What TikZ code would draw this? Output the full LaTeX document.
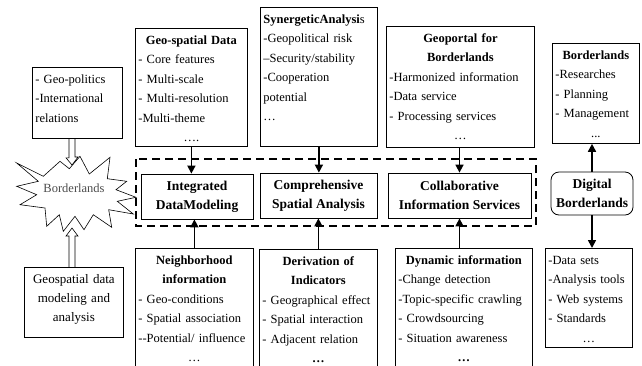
\documentclass[tikz,border=0pt]{standalone}
\usepackage{fontspec}
\setmainfont{Liberation Serif}
\usetikzlibrary{arrows.meta}
\newcommand{\ctr}[1]{\makebox[\hsize]{#1}}

\begin{document}
\begin{tikzpicture}[x=1pt,y=-1pt]
    \tikzstyle{every node}=[inner sep=3pt];
    \tikzstyle{infobox}=[draw, line width=0.8pt, anchor=north west, align=left, text height=13pt, font=\fontsize{12.5}{19.4}\selectfont];
    \tikzstyle{midbox}=[draw, line width=0.8pt, align=center, minimum height=45pt, font=\bfseries\fontsize{13.5}{19}\selectfont];
    \tikzstyle{flow}=[line width=1.6pt, -{Triangle[length=8pt,width=8pt]}];
    \tikzstyle{hollow}=[line width=0.6pt, line join=miter];
    \tikzstyle{group}=[line width=1.5pt, dash pattern=on 8pt off 5pt];
    %\node[infobox, text width=w, text depth=d] (name) at (x,y) {...};

    \useasboundingbox (0,0) rectangle (642,365);
    \clip (0,0) rectangle (642,365);

    \node[infobox, text width=84pt, text depth=52pt] (geopol) at (32,67) {- Geo-politics\\-International\\relations};
    \node[infobox, text width=106pt, text depth=99pt] (geodata) at (135,28) {\ctr{\textbf{Geo-spatial Data}}\\- Core features\\- Multi-scale\\- Multi-resolution\\-Multi-theme\\\ctr{….}};
    \node[infobox, text width=111pt, text depth=120pt] (synergy) at (260,7) {\textbf{SynergeticAnalysi}s\\-Geopolitical risk\\–Security/stability\\-Cooperation\\potential\\…};
    \node[infobox, text width=142pt, text depth=102pt] (portal) at (386,26) {\ctr{\textbf{Geoportal for}}\\\ctr{\textbf{Borderlands}}\\-Harmonized information\\-Data service\\- Processing services\\\ctr{…}};
    \node[infobox, text width=81pt, text depth=81pt] (blusers) at (552,43) {\ctr{\textbf{Borderlands}}\\-Researches\\- Planning\\- Management\\\ctr{...}};

    \node[midbox, minimum width=112pt] (integ) at (197,196.5) {Integrated\\DataModeling};
    \node[midbox, minimum width=117pt] (compr) at (318.5,195.5) {Comprehensive\\Spatial Analysis};
    \node[midbox, minimum width=143pt] (collab) at (459.5,195.5) {Collaborative\\Information Services};
    \node[midbox, rounded corners=8pt, minimum width=82pt, minimum height=43pt] (digital) at (592,193.5) {Digital\\Borderlands};
    \draw[group] (136,159) rectangle (536,226);

    \node[infobox, text width=112pt, text depth=111pt] (neigh) at (135,248) {\ctr{\textbf{Neighborhood}}\\\ctr{\textbf{information}}\\- Geo-conditions\\- Spatial association\\-{}-Potential/ influence\\\ctr{…}};
    \node[infobox, text width=112pt, text depth=111pt] (deriv) at (259,249) {\ctr{\textbf{Derivation of}}\\\ctr{\textbf{Indicators}}\\- Geographical effect\\- Spatial interaction\\- Adjacent relation\\\ctr{\textbf{…}}};
    \node[infobox, text width=131pt, text depth=111pt] (dyn) at (395,248) {\ctr{\textbf{Dynamic information}}\\-Change detection\\-Topic-specific crawling\\- Crowdsourcing\\- Situation awareness\\\ctr{\textbf{…}}};
    \node[infobox, text width=81pt, text depth=80pt] (dbres) at (545,248) {-Data sets\\-Analysis tools\\- Web systems\\- Standards\\\ctr{…}};
    \node[infobox, align=center, text width=93pt, text depth=51pt, font=\fontsize{13}{19}\selectfont] (geomod) at (24,267) {Geospatial data\\modeling and\\analysis};

    % starburst
    \draw[line width=0.6pt] (16.7,163) -- (43.3,176.3) -- (60,161.3) -- (69.3,168.7) -- (80,156.3)
      -- (89.3,174) -- (110,157.3) -- (107.3,178.7) -- (126.7,181.3) -- (116,189.7)
      -- (136,197.3) -- (117.3,201.3) -- (133.3,214) -- (108.7,209.7) -- (111.7,227.3)
      -- (93.3,214.7) -- (84,229.7) -- (75,216.3) -- (63.3,231.3) -- (59.3,214.7)
      -- (46.7,226.3) -- (45,208) -- (20,204.7) -- (36.7,194.7) -- (16.7,186.3)
      -- (38.3,181.3) -- cycle;
    \node[text=black!70, font=\fontsize{12.5}{14}\selectfont] (burst) at (74,188) {Borderlands};
    \coordinate (burst-top) at (72,165);
    \coordinate (burst-bot) at (72,228);

    % hollow arrows
    \draw[hollow] (burst-top |- geopol.south) ++(-3,0) -- ++(0,19) -- ++(-3,0) -- (burst-top)
      -- ++(6,-8) -- ++(-3,0) -- ++(0,-19);
    \draw[hollow] (burst-bot |- geomod.north) ++(-3,0) -- ++(0,-31) -- ++(-3,0) -- (burst-bot)
      -- ++(6,8) -- ++(-3,0) -- ++(0,31);

    \draw[flow] (geodata.south) -- (geodata.south |- integ.north);
    \draw[flow] (synergy.south) -- (synergy.south |- compr.north);
    \draw[flow] (collab.north |- portal.south) -- (collab.north);
    \draw[flow] (neigh.north) -- (neigh.north |- integ.south);
    \draw[flow] (deriv.north) -- (deriv.north |- compr.south);
    \draw[flow] (collab.south |- dyn.north) -- (collab.south);
    \draw[flow] (digital.north) -- (digital.north |- blusers.south);
    \draw[flow] (digital.south) -- (digital.south |- dbres.north);
  \end{tikzpicture}
\end{document}
